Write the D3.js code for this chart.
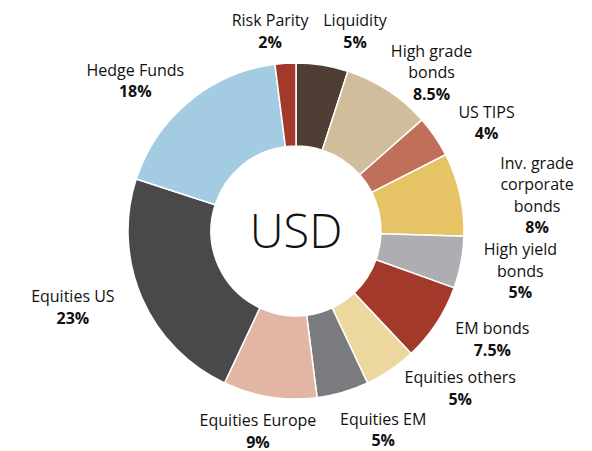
<!DOCTYPE html>
<html>
<head>
<meta charset="utf-8">
<script src="https://cdn.jsdelivr.net/npm/d3@7"></script>
<style>
  body { margin: 0; background: #fff; }
  text { font-family: "Open Sans", sans-serif; fill: #111; }
</style>
</head>
<body>
<div id="chart"></div>
<script>
// Data
const categories = ['Liquidity', 'High grade bonds', 'US TIPS', 'Inv. grade corporate bonds',
  'High yield bonds', 'EM bonds', 'Equities others', 'Equities EM', 'Equities Europe',
  'Equities US', 'Hedge Funds', 'Risk Parity'];
const values = [5, 8.5, 4, 8, 5, 7.5, 5, 5, 9, 23, 18, 2];
const valueLabels = ['5%', '8.5%', '4%', '8%', '5%', '7.5%', '5%', '5%', '9%', '23%', '18%', '2%'];
const labelLines = [
  ['Liquidity'], ['High grade', 'bonds'], ['US TIPS'], ['Inv. grade', 'corporate', 'bonds'],
  ['High yield', 'bonds'], ['EM bonds'], ['Equities others'], ['Equities EM'],
  ['Equities Europe'], ['Equities US'], ['Hedge Funds'], ['Risk Parity']
];
const colors = ['#4e3e34', '#cfbd9b', '#c0705a', '#e6c466', '#adaeb1', '#a3392b',
  '#ecd79e', '#7a7b7e', '#e2b5a4', '#48494b', '#a3cbe2', '#a3392b'];

// label nudges from the label arc (layout only)
const nudges = [[27, 3], [23, 13], [21, 7], [41, 9], [23, 2], [25, -4],
  [49, -12], [30, 2], [-6, -2], [-35, -5], [-30, 8], [-13, 5]];

const width = 592;
const height = 451;
const cx = 296;
const cy = 231;
const outerR = 168;
const innerR = 85;
const lineH = 21.5;

const svg = d3.select('#chart').append('svg')
  .attr('width', width)
  .attr('height', height);

const g = svg.append('g').attr('transform', `translate(${cx},${cy})`);

const pie = d3.pie().sort(null).value((d) => d);
const arcs = pie(values);

const arc = d3.arc().innerRadius(innerR).outerRadius(outerR);
const labelArc = d3.arc().innerRadius(205).outerRadius(205);

// slices
g.selectAll('path')
  .data(arcs)
  .enter()
  .append('path')
  .attr('d', arc)
  .attr('fill', (d, i) => colors[i])
  .attr('stroke', '#fff')
  .attr('stroke-width', 1.5);

// center text
g.append('text')
  .attr('text-anchor', 'middle')
  .attr('y', 17)
  .style('font-size', '47px')
  .style('font-weight', 300)
  .text('USD');

// labels
arcs.forEach((d, i) => {
  const c = labelArc.centroid(d);
  const x = c[0] + nudges[i][0];
  const y = c[1] + nudges[i][1];
  const lines = labelLines[i].concat([valueLabels[i]]);
  const first = y - ((lines.length - 1) * lineH) / 2 + 5.5;
  const t = g.append('text')
    .attr('text-anchor', 'middle')
    .style('font-size', '16px');
  lines.forEach((ln, j) => {
    t.append('tspan')
      .attr('x', x)
      .attr('y', first + j * lineH)
      .style('font-weight', j === lines.length - 1 ? 700 : 400)
      .text(ln);
  });
});
</script>
</body>
</html>
